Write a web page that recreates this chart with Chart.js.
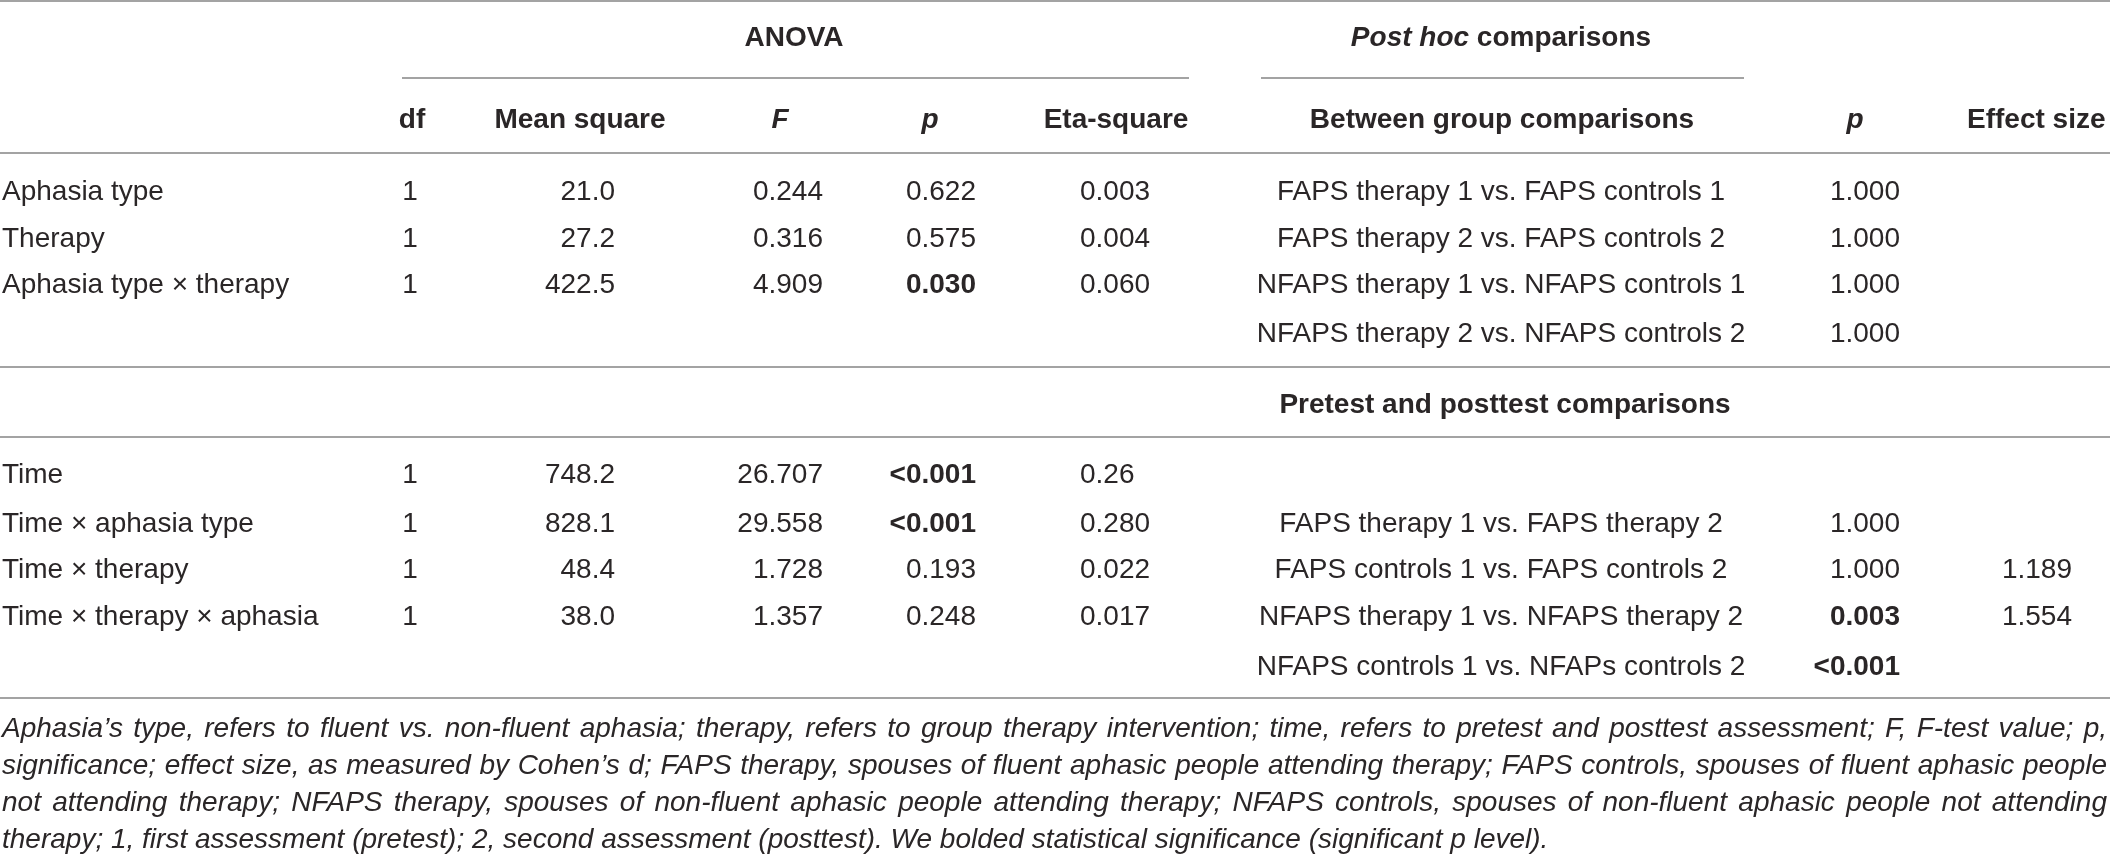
<!DOCTYPE html>
<html>
<head>
<meta charset="utf-8">
<script src="https://cdn.jsdelivr.net/npm/chart.js@4.4.1/dist/chart.umd.min.js"></script>
<style>
  html, body { margin: 0; padding: 0; background: #fff; }
  #wrap { width: 2110px; height: 854px; position: relative; }
</style>
</head>
<body>
<div id="wrap"><canvas id="table"></canvas></div>
<script>
// ---- table data ----
const sources    = ["Aphasia type", "Therapy", "Aphasia type × therapy", null,
                    "Time", "Time × aphasia type", "Time × therapy", "Time × therapy × aphasia", null];
const df         = ["1", "1", "1", null, "1", "1", "1", "1", null];
const meanSquare = ["21.0", "27.2", "422.5", null, "748.2", "828.1", "48.4", "38.0", null];
const fValues    = ["0.244", "0.316", "4.909", null, "26.707", "29.558", "1.728", "1.357", null];
const pValues    = ["0.622", "0.575", "0.030", null, "<0.001", "<0.001", "0.193", "0.248", null];
const etaSquare  = ["0.003", "0.004", "0.060", null, "0.26", "0.280", "0.022", "0.017", null];
const comparisons = ["FAPS therapy 1 vs. FAPS controls 1", "FAPS therapy 2 vs. FAPS controls 2",
                     "NFAPS therapy 1 vs. NFAPS controls 1", "NFAPS therapy 2 vs. NFAPS controls 2", null,
                     "FAPS therapy 1 vs. FAPS therapy 2", "FAPS controls 1 vs. FAPS controls 2",
                     "NFAPS therapy 1 vs. NFAPS therapy 2", "NFAPS controls 1 vs. NFAPs controls 2"];
const pComparisons = ["1.000", "1.000", "1.000", "1.000", null, "1.000", "1.000", "0.003", "<0.001"];
const effectSizes  = [null, null, null, null, null, null, "1.189", "1.554", null];

const footnote = [
  "Aphasia’s type, refers to fluent vs. non-fluent aphasia; therapy, refers to group therapy intervention; time, refers to pretest and posttest assessment; F, F-test value; p,",
  "significance; effect size, as measured by Cohen’s d; FAPS therapy, spouses of fluent aphasic people attending therapy; FAPS controls, spouses of fluent aphasic people",
  "not attending therapy; NFAPS therapy, spouses of non-fluent aphasic people attending therapy; NFAPS controls, spouses of non-fluent aphasic people not attending",
  "therapy; 1, first assessment (pretest); 2, second assessment (posttest). We bolded statistical significance (significant p level)."
];

// ---- layout (canvas units on the hidden linear scales) ----
const FAMILY = '"Liberation Sans", Arial, Helvetica, sans-serif';
const INK = "#2a2627";
const RULE = "#858585";
const BODY = 28, HEAD = 28, NOTE = 28;

const rowY = [190, 237, 283, 332, 473, 522, 568, 615, 665];
const noteY = [727, 764, 801, 838];

const columns = [
  { values: sources,      x: 2,    align: "left" },
  { values: df,           x: 410,  align: "center" },
  { values: meanSquare,   x: 615,  align: "right" },
  { values: fValues,      x: 823,  align: "right" },
  { values: pValues,      x: 976,  align: "right", sig: true },
  { values: etaSquare,    x: 1080, align: "left" },
  { values: comparisons,  x: 1501, align: "center" },
  { values: pComparisons, x: 1900, align: "right", sig: true },
  { values: effectSizes,  x: 2072, align: "right" }
];

const headers = [
  { runs: [{ t: "ANOVA", b: true }], x: 794, y: 36, align: "center" },
  { runs: [{ t: "Post hoc", b: true, i: true }, { t: " comparisons", b: true }], x: 1501, y: 36, align: "center" },
  { runs: [{ t: "df", b: true }], x: 412, y: 118, align: "center" },
  { runs: [{ t: "Mean square", b: true }], x: 580, y: 118, align: "center" },
  { runs: [{ t: "F", b: true, i: true }], x: 780, y: 118, align: "center" },
  { runs: [{ t: "p", b: true, i: true }], x: 930, y: 118, align: "center" },
  { runs: [{ t: "Eta-square", b: true }], x: 1116, y: 118, align: "center" },
  { runs: [{ t: "Between group comparisons", b: true }], x: 1502, y: 118, align: "center" },
  { runs: [{ t: "p", b: true, i: true }], x: 1855, y: 118, align: "center" },
  { runs: [{ t: "Effect size", b: true }], x: 1967, y: 118, align: "left" },
  { runs: [{ t: "Pretest and posttest comparisons", b: true }], x: 1505, y: 403, align: "center" }
];

const rules = [
  { y: 1,   x0: 0,    x1: 2110 },
  { y: 78,  x0: 402,  x1: 1189 },
  { y: 78,  x0: 1261, x1: 1744 },
  { y: 153, x0: 0,    x1: 2110 },
  { y: 367, x0: 0,    x1: 2110 },
  { y: 437, x0: 0,    x1: 2110 },
  { y: 698, x0: 0,    x1: 2110 }
];

function isSignificant(s) {
  return parseFloat(String(s).replace("<", "")) < 0.05;
}

function fontOf(size, bold, italic) {
  return (italic ? "italic " : "") + (bold ? "bold " : "") + size + "px " + FAMILY;
}

// build one scatter dataset per column, one point per filled cell
const datasets = [];
columns.forEach(col => {
  const pts = [], cells = [];
  col.values.forEach((v, j) => {
    if (v == null) return;
    pts.push({ x: col.x, y: rowY[j] });
    cells.push({ runs: [{ t: v, b: col.sig && isSignificant(v) }], size: BODY });
  });
  datasets.push({ data: pts, cells: cells, align: col.align, pointRadius: 0 });
});
datasets.push({
  data: headers.map(h => ({ x: h.x, y: h.y })),
  cells: headers.map(h => ({ runs: h.runs, size: HEAD, align: h.align })),
  align: "center", pointRadius: 0
});
datasets.push({
  data: noteY.map(y => ({ x: 2, y: y })),
  cells: footnote.map((t, k) => ({ runs: [{ t: t, i: true }], size: NOTE, justify: k < footnote.length - 1 ? 2107 : null })),
  align: "left", pointRadius: 0
});

function drawCell(ctx, cell, x, y, align) {
  const size = cell.size;
  const base = y + size * 0.36;
  ctx.fillStyle = INK;
  ctx.textBaseline = "alphabetic";
  ctx.textAlign = "left";
  if (cell.justify) {
    ctx.font = fontOf(size, false, true);
    const words = cell.runs[0].t.split(" ");
    const widths = words.map(w => ctx.measureText(w).width);
    const total = widths.reduce((a, b) => a + b, 0);
    const gap = (cell.justify - x - total) / (words.length - 1);
    let cx = x;
    words.forEach((w, k) => { ctx.fillText(w, cx, base); cx += widths[k] + gap; });
    return;
  }
  let width = 0;
  cell.runs.forEach(r => { ctx.font = fontOf(size, r.b, r.i); r.w = ctx.measureText(r.t).width; width += r.w; });
  let cx = x;
  if (align === "center") cx = x - width / 2;
  else if (align === "right") cx = x - width;
  cell.runs.forEach(r => { ctx.font = fontOf(size, r.b, r.i); ctx.fillText(r.t, cx, base); cx += r.w; });
}

const tablePlugin = {
  id: "tableText",
  afterDatasetsDraw(chart) {
    const ctx = chart.ctx, xs = chart.scales.x, ys = chart.scales.y;
    ctx.save();
    ctx.strokeStyle = RULE;
    ctx.lineWidth = 1.6;
    rules.forEach(r => {
      ctx.beginPath();
      ctx.moveTo(xs.getPixelForValue(r.x0), ys.getPixelForValue(r.y));
      ctx.lineTo(xs.getPixelForValue(r.x1), ys.getPixelForValue(r.y));
      ctx.stroke();
    });
    chart.data.datasets.forEach((ds, i) => {
      chart.getDatasetMeta(i).data.forEach((el, j) => {
        const cell = ds.cells[j];
        drawCell(ctx, cell, el.x, el.y, cell.align || ds.align);
      });
    });
    ctx.restore();
  }
};

new Chart(document.getElementById("table"), {
  type: "scatter",
  data: { datasets: datasets },
  options: {
    responsive: true,
    maintainAspectRatio: false,
    animation: false,
    events: [],
    layout: { padding: 0 },
    scales: {
      x: { type: "linear", min: 0, max: 2110, display: false },
      y: { type: "linear", min: 0, max: 854, reverse: true, display: false }
    },
    plugins: { legend: { display: false }, tooltip: { enabled: false } }
  },
  plugins: [tablePlugin]
});
</script>
</body>
</html>
